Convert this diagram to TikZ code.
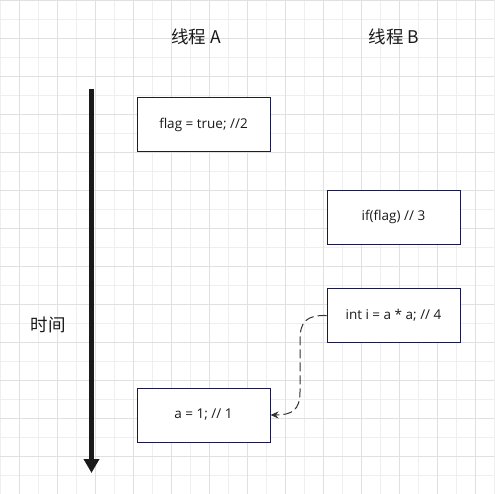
\documentclass[tikz,border=0pt]{standalone}
\usepackage{fontspec}
\setmainfont{Open Sans}
\newfontfamily\cjk{Noto Sans CJK SC}
\usetikzlibrary{arrows.meta}
\definecolor{gridlight}{HTML}{EFEFEF}
\definecolor{griddark}{HTML}{E0E0E0}
\definecolor{boxline}{HTML}{1A1A48}
\definecolor{ink}{HTML}{1A1A1A}
\tikzset{
  codebox/.style={draw=boxline, line width=1pt, fill=white, minimum width=133pt, minimum height=54pt, inner sep=0pt, text=ink, font=\fontsize{13.5}{15}\selectfont},
  title/.style={font=\cjk\fontsize{17.5}{20}\selectfont, text=ink},
  timeline/.style={draw=ink, line width=5pt, -{Triangle[width=15pt,length=14pt]}},
  hb/.style={draw=black!80, line width=1pt, dash pattern=on 9pt off 4pt, -{Stealth[length=8pt,width=7pt]}}
}
\begin{document}
\begin{tikzpicture}[x=1pt, y=-1pt]
  \useasboundingbox (0,0) rectangle (494,494);
  % 1. 背景网格
  \foreach \i in {0,...,26} {
    \draw[gridlight, line width=0.8pt] (\i*19,0) -- (\i*19,494);
    \draw[gridlight, line width=0.8pt] (0,\i*19) -- (494,\i*19);
  }
  \foreach \i in {0,...,12} {
    \draw[griddark, line width=0.8pt] (19+\i*38,0) -- (19+\i*38,494);
    \draw[griddark, line width=0.8pt] (0,\i*38) -- (494,\i*38);
  }
  \draw[griddark, line width=0.8pt] (0,494) -- (494,494);

  % 2. 标题与时间轴
  \node[title] (titleA) at (196,37) {线程 A};
  \node[title] (titleB) at (394,37) {线程 B};
  \node[title] (timeLabel) at (48,325) {时间};
  \coordinate (timeTop) at (91.5,89);
  \coordinate (timeEnd) at (91.5,473);
  \draw[timeline] (timeTop) -- (timeEnd);

  % 3. 两个线程的语句
  \node[codebox] (flagBox) at (203.5,125) {flag = true; //2};
  \node[codebox] (ifBox) at (393.5,217) {if(flag) // 3};
  \node[codebox] (intBox) at (393.5,315.5) {int i = a * a; // 4};
  \node[codebox] (aBox) at (203.5,415) {a = 1; // 1};

  % 4. 重排序后的依赖
  \draw[hb] (intBox.west) .. controls (306,315) and (300,322) .. (300,340)
    -- (300,392) .. controls (300,410) and (292,415) .. (aBox.east);
\end{tikzpicture}
\end{document}
